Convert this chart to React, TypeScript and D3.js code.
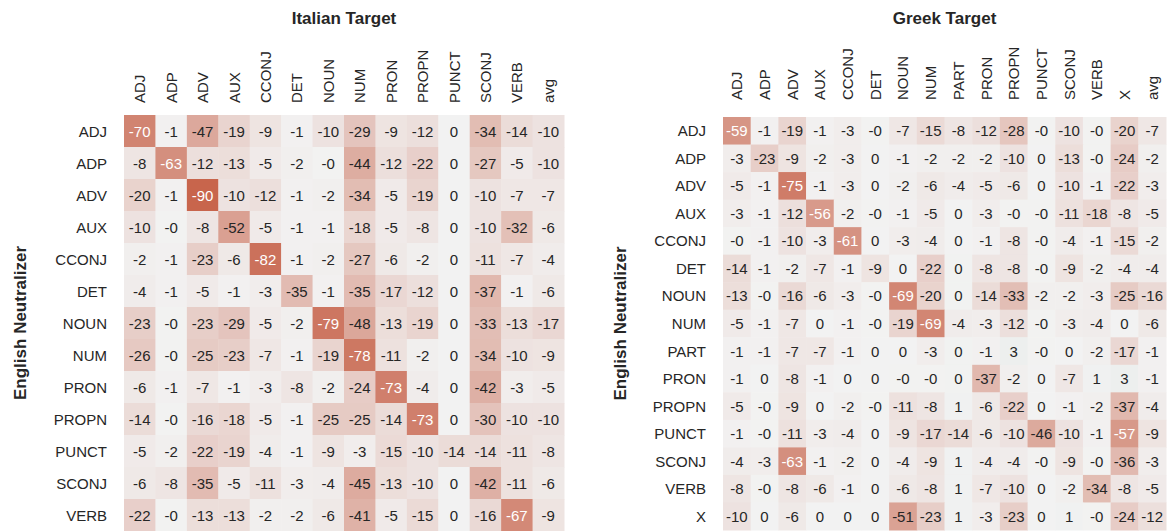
import React from "react";
import * as d3 from "d3";

// Italian target
const itRows = ["ADJ", "ADP", "ADV", "AUX", "CCONJ", "DET", "NOUN", "NUM", "PRON", "PROPN", "PUNCT", "SCONJ", "VERB"];
const itCols = ["ADJ", "ADP", "ADV", "AUX", "CCONJ", "DET", "NOUN", "NUM", "PRON", "PROPN", "PUNCT", "SCONJ", "VERB", "avg"];
const itValues = [
    [-70, -1, -47, -19, -9, -1, -10, -29, -9, -12, 0, -34, -14, -10],
    [-8, -63, -12, -13, -5, -2, -0.3, -44, -12, -22, 0, -27, -5, -10],
    [-20, -1, -90, -10, -12, -1, -2, -34, -5, -19, 0, -10, -7, -7],
    [-10, -0.3, -8, -52, -5, -1, -1, -18, -5, -8, 0, -10, -32, -6],
    [-2, -1, -23, -6, -82, -1, -2, -27, -6, -2, 0, -11, -7, -4],
    [-4, -1, -5, -1, -3, -35, -1, -35, -17, -12, 0, -37, -1, -6],
    [-23, -0.3, -23, -29, -5, -2, -79, -48, -13, -19, 0, -33, -13, -17],
    [-26, -0.3, -25, -23, -7, -1, -19, -78, -11, -2, 0, -34, -10, -9],
    [-6, -1, -7, -1, -3, -8, -2, -24, -73, -4, 0, -42, -3, -5],
    [-14, -0.3, -16, -18, -5, -1, -25, -25, -14, -73, 0, -30, -10, -10],
    [-5, -2, -22, -19, -4, -1, -9, -3, -15, -10, -14, -14, -11, -8],
    [-6, -8, -35, -5, -11, -3, -4, -45, -13, -10, 0, -42, -11, -6],
    [-22, -0.3, -13, -13, -2, -2, -6, -41, -5, -15, 0, -16, -67, -9],
];

// Greek target
const grRows = ["ADJ", "ADP", "ADV", "AUX", "CCONJ", "DET", "NOUN", "NUM", "PART", "PRON", "PROPN", "PUNCT", "SCONJ", "VERB", "X"];
const grCols = ["ADJ", "ADP", "ADV", "AUX", "CCONJ", "DET", "NOUN", "NUM", "PART", "PRON", "PROPN", "PUNCT", "SCONJ", "VERB", "X", "avg"];
const grValues = [
    [-59, -1, -19, -1, -3, -0.3, -7, -15, -8, -12, -28, -0.3, -10, -0.3, -20, -7],
    [-3, -23, -9, -2, -3, 0, -1, -2, -2, -2, -10, 0, -13, -0.3, -24, -2],
    [-5, -1, -75, -1, -3, 0, -2, -6, -4, -5, -6, 0, -10, -1, -22, -3],
    [-3, -1, -12, -56, -2, -0.3, -1, -5, 0, -3, -0.3, -0.3, -11, -18, -8, -5],
    [-0.3, -1, -10, -3, -61, 0, -3, -4, 0, -1, -8, -0.3, -4, -1, -15, -2],
    [-14, -1, -2, -7, -1, -9, 0, -22, 0.4, -8, -8, -0.3, -9, -2, -4, -4],
    [-13, -0.3, -16, -6, -3, -0.3, -69, -20, 0.4, -14, -33, -2, -2, -3, -25, -16],
    [-5, -1, -7, 0, -1, -0.3, -19, -69, -4, -3, -12, -0.3, -3, -4, 0, -6],
    [-1, -1, -7, -7, -1, 0, 0, -3, 0.4, -1, 3, -0.3, 0, -2, -17, -1],
    [-1, 0, -8, -1, 0, 0, -0.3, -0.3, 0.4, -37, -2, 0, -7, 1, 3, -1],
    [-5, -0.3, -9, 0, -2, -0.3, -11, -8, 1, -6, -22, 0, -1, -2, -37, -4],
    [-1, -0.3, -11, -3, -4, 0, -9, -17, -14, -6, -10, -46, -10, -1, -57, -9],
    [-4, -3, -63, -1, -2, 0, -4, -9, 1, -4, -4, -0.3, -9, -0.3, -36, -3],
    [-8, -0.3, -8, -6, -1, 0, -6, -8, 1, -7, -10, 0, -2, -34, -8, -5],
    [-10, 0, -6, 0, 0, 0, -51, -23, 1, -3, -23, 0, 1, -0.3, -24, -12],
];

const FONT = "'Liberation Sans', Arial, sans-serif";

const color = d3.scaleLinear<string>()
    .domain([-100, 0, 100])
    .range(["#c3553a", "#f2f2f2", "#4e9a5f"])
    .interpolate(d3.interpolateRgb)
    .clamp(true);

// same rule seaborn uses to pick annotation colour
const luminance = (c: string): number => {
    const rgb = d3.rgb(c);
    const lin = (v: number) => {
        const s = v / 255;
        return s <= 0.03928 ? s / 12.92 : Math.pow((s + 0.055) / 1.055, 2.4);
    };
    return 0.2126 * lin(rgb.r) + 0.7152 * lin(rgb.g) + 0.0722 * lin(rgb.b);
};

const fmt = (v: number): string => (v < 0 ? "-" : "") + Math.abs(Math.round(v));

interface IHeatmapProps {
    title: string;
    rows: string[];
    cols: string[];
    values: number[][];
    x0: number;
    x1: number;
    y0: number;
    y1: number;
    yTitleX: number;
    colLabelY: number;
}

const Heatmap = (props: IHeatmapProps) => {
    const { title, rows, cols, values, x0, x1, y0, y1, yTitleX, colLabelY } = props;
    const xScale = d3.scaleBand<string>().domain(cols).range([x0, x1]);
    const yScale = d3.scaleBand<string>().domain(rows).range([y0, y1]);
    const bw = xScale.bandwidth();
    const bh = yScale.bandwidth();

    return <g fontFamily={FONT}>
        <text x={(x0 + x1) / 2} y={24} textAnchor="middle" fontSize={17} fontWeight="bold" fill="#262626">{title}</text>
        {cols.map(c =>
            <text key={"c" + c}
                transform={`translate(${(xScale(c) as number) + bw / 2},${colLabelY}) rotate(-90)`}
                dominantBaseline="central" fontSize={15} fill="#262626">{c}</text>
        )}
        {rows.map(r =>
            <text key={"r" + r} x={x0 - 17} y={(yScale(r) as number) + bh / 2}
                textAnchor="end" dominantBaseline="central" fontSize={15} fill="#262626">{r}</text>
        )}
        <text transform={`translate(${yTitleX},${(y0 + y1) / 2}) rotate(-90)`}
            textAnchor="middle" dominantBaseline="central" fontSize={17} fontWeight="bold" fill="#262626">English Neutralizer</text>
        {values.map((row, i) => row.map((v, j) => {
            const fill = color(v);
            const x = xScale(cols[j]) as number;
            const y = yScale(rows[i]) as number;
            return <g key={i + "-" + j}>
                <rect x={x} y={y} width={bw + 0.5} height={bh + 0.5} fill={fill} />
                <text x={x + bw / 2} y={y + bh / 2} textAnchor="middle" dominantBaseline="central"
                    fontSize={15} fill={luminance(fill) > 0.408 ? "#262626" : "#ffffff"}>{fmt(v)}</text>
            </g>;
        }))}
    </g>;
};

export default function App() {
    return <div style={{ position: "absolute", left: 0, top: 0 }}>
        <svg width={1167} height={531} style={{ display: "block", background: "#ffffff" }}>
            <Heatmap title="Italian Target" rows={itRows} cols={itCols} values={itValues}
                x0={124} x1={564} y0={115} y1={531} yTitleX={20} colLabelY={103} />
            <Heatmap title="Greek Target" rows={grRows} cols={grCols} values={grValues}
                x0={723} x1={1166} y0={117} y1={530} yTitleX={620} colLabelY={100} />
        </svg>
    </div>;
}
